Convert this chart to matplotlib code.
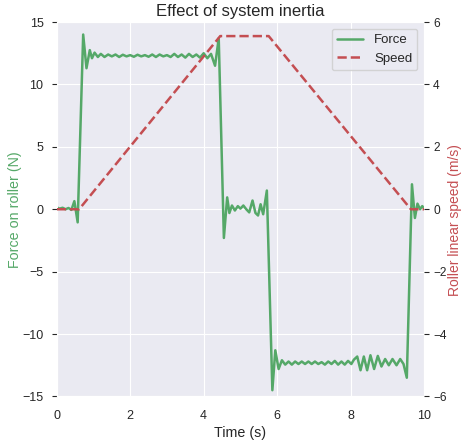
import matplotlib
matplotlib.use("Agg")
import matplotlib.pyplot as plt
import seaborn as sns

sns.set_style("darkgrid")
plt.rcParams['font.family'] = ['Liberation Sans', 'DejaVu Sans']

# force on roller (N)
force_t = [0.00, 0.08, 0.16, 0.24, 0.32, 0.40, 0.48, 0.57, 0.72, 0.81, 0.90, 0.96,
           1.03, 1.12, 1.20, 1.30, 1.40, 1.50, 1.60, 1.70, 1.80, 1.90, 2.00, 2.10,
           2.20, 2.30, 2.40, 2.50, 2.60, 2.70, 2.80, 2.90, 3.00, 3.10, 3.20, 3.30,
           3.40, 3.50, 3.60, 3.70, 3.80, 3.90, 4.00, 4.10, 4.20, 4.31, 4.41, 4.55,
           4.64, 4.70, 4.77, 4.85, 4.93, 5.00, 5.08, 5.16, 5.24, 5.33, 5.41, 5.48,
           5.55, 5.62, 5.72, 5.87, 5.95, 6.04, 6.13, 6.22, 6.31, 6.40, 6.49, 6.58,
           6.67, 6.76, 6.85, 6.94, 7.03, 7.12, 7.21, 7.30, 7.39, 7.48, 7.57, 7.66,
           7.75, 7.84, 7.93, 8.02, 8.09, 8.18, 8.27, 8.36, 8.45, 8.54, 8.64, 8.74,
           8.84, 8.94, 9.04, 9.14, 9.25, 9.35, 9.44, 9.53, 9.67, 9.75, 9.82, 9.89,
           9.95, 10.00]
force_n = [0.15, 0.05, 0.12, 0.00, 0.10, -0.05, 0.65, -1.05, 14.0, 11.3, 12.75, 12.1,
           12.55, 12.2, 12.45, 12.2, 12.4, 12.25, 12.4, 12.2, 12.38, 12.25, 12.35, 12.22,
           12.38, 12.25, 12.35, 12.22, 12.4, 12.2, 12.4, 12.25, 12.35, 12.2, 12.45, 12.2,
           12.4, 12.15, 12.45, 12.2, 12.4, 12.15, 12.5, 12.1, 12.45, 11.5, 13.7, -2.3,
           0.95, -0.3, 0.3, -0.1, 0.25, 0.05, 0.3, 0.0, -0.25, 0.7, -0.3, -0.5,
           0.4, -0.4, 1.5, -14.5, -11.3, -12.8, -12.1, -12.45, -12.2, -12.45, -12.2, -12.4,
           -12.2, -12.4, -12.2, -12.4, -12.2, -12.4, -12.25, -12.45, -12.2, -12.4, -12.15, -12.45,
           -12.2, -12.45, -12.15, -12.4, -12.05, -11.8, -12.9, -11.8, -12.9, -11.7, -12.8, -11.75,
           -12.6, -12.0, -12.5, -12.0, -12.5, -12.0, -12.4, -13.5, 2.0, -0.7, 0.45, 0.0,
           0.25, 0.1]

# roller linear speed (m/s)
speed_t = [0.0, 0.61, 4.45, 5.77, 9.64, 10.0]
speed_v = [0.0, 0.0, 5.55, 5.55, 0.0, 0.0]

green = '#55a868'
red = '#c44e52'

fig = plt.figure(figsize=(4.65, 4.41), dpi=100)
ax = fig.add_axes([0.122, 0.101, 0.79, 0.849])
ax2 = ax.twinx()

l1, = ax.plot(force_t, force_n, color=green, linewidth=1.8, label='Force')
l2, = ax2.plot(speed_t, speed_v, color=red, linewidth=1.8, linestyle='--', label='Speed')

ax.set_xlim(0, 10)
ax.set_ylim(-15, 15)
ax2.set_ylim(-6, 6)
ax.set_yticks([-15, -10, -5, 0, 5, 10, 15])
ax2.set_yticks([-6, -4, -2, 0, 2, 4, 6])
ax.set_xticks([0, 2, 4, 6, 8, 10])
ax2.grid(False)

ax.tick_params(labelsize=9, colors='#262626', pad=6)
ax2.tick_params(labelsize=8.6, colors='#262626', pad=3)
ax.set_xlabel('Time (s)', fontsize=10.3, color='#262626', labelpad=3)
ax.set_ylabel('Force on roller (N)', fontsize=10.3, color=green)
ax.yaxis.set_label_coords(-0.094, 0.5)
ax.set_title('Effect of system inertia', fontsize=12, color='#262626', pad=4)

for s in ax2.spines.values():
    s.set_visible(False)

ax2.legend([l1, l2], ['Force', 'Speed'], loc='upper right', fontsize=9.5, frameon=True)

# right label: place it just past the tick labels, shrink if it would leave the figure
fig.canvas.draw()
r = fig.canvas.get_renderer()
tick_right = max(t.get_window_extent(r).x1 for t in ax2.get_yticklabels())
fig_w = fig.get_figwidth() * fig.dpi
size = 10.0
while True:
    lab = fig.text(0, 0.5, 'Roller linear speed (m/s)', rotation=90, fontsize=size,
                   color=red, ha='left', va='center')
    bb = lab.get_window_extent(r)
    if tick_right + 1.0 + bb.width <= fig_w - 0.3 or size < 8:
        break
    lab.remove()
    size -= 0.2
lab.set_x((tick_right + 1.0) / fig_w)

fig.savefig('out.png', dpi=100)
